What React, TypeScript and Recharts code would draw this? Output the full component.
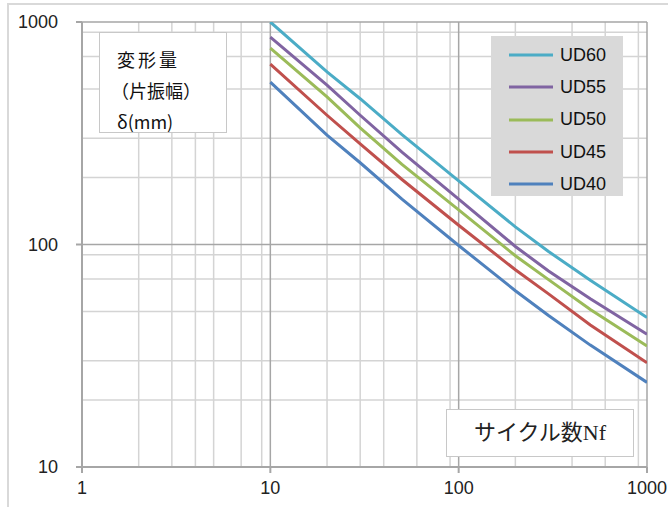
import { LineChart, Line, XAxis, YAxis, CartesianGrid, Legend } from 'recharts';

const cycles = [10, 20, 30, 50, 100, 200, 300, 500, 1000];
const ud60 = [1000, 597, 452, 312, 193, 120, 93, 69, 47];
const ud55 = [856, 520, 381, 260, 160, 98, 76, 57, 39.5];
const ud50 = [764, 461, 334, 229, 143, 89, 69.5, 51, 35];
const ud45 = [647, 381, 283, 196, 122, 77, 60, 43.5, 29.4];
const ud40 = [537, 310, 233, 160, 99, 62, 48, 35.3, 24];

const xTicks = [1, 10, 100, 1000];
const yTicks = [10, 100, 1000];
const xMinor = [2, 3, 4, 5, 6, 7, 8, 9, 20, 30, 40, 50, 60, 70, 80, 90, 200, 300, 400, 500, 600, 700, 800, 900];
const yMinor = [20, 30, 40, 50, 60, 70, 80, 90, 200, 300, 400, 500, 600, 700, 800, 900];

const series = [
  { key: 'UD60', values: ud60, color: '#4bacc6' },
  { key: 'UD55', values: ud55, color: '#8064a2' },
  { key: 'UD50', values: ud50, color: '#9bbb59' },
  { key: 'UD45', values: ud45, color: '#c0504d' },
  { key: 'UD40', values: ud40, color: '#4f81bd' },
];
const order = series.map((s) => s.key);

const data = cycles.map((n, i) => {
  const row: Record<string, number> = { n };
  series.forEach((s) => {
    row[s.key] = s.values[i];
  });
  return row;
});

const PLOT_LEFT = 82;
const PLOT_BOTTOM = 467;
const tickFont = 'Liberation Sans, Arial, sans-serif';

function YTick(props: any) {
  const { y, payload } = props;
  return (
    <g>
      <line x1={PLOT_LEFT - 6} x2={PLOT_LEFT} y1={y} y2={y} stroke="#a6a6a6" strokeWidth={2} />
      <text x={58} y={y} dy={6} textAnchor="end" fontSize={18} fontFamily={tickFont} fill="#222">
        {payload.value}
      </text>
    </g>
  );
}

function XTick(props: any) {
  const { x, payload } = props;
  return (
    <g>
      <line x1={x} x2={x} y1={PLOT_BOTTOM} y2={PLOT_BOTTOM + 6} stroke="#a6a6a6" strokeWidth={2} />
      <text x={x} y={494} textAnchor="middle" fontSize={18} fontFamily={tickFont} fill="#222">
        {payload.value}
      </text>
    </g>
  );
}

function renderLegend(props: any) {
  const items = [...(props.payload || [])].sort((a: any, b: any) => order.indexOf(a.value) - order.indexOf(b.value));
  return (
    <div
      style={{
        position: 'absolute',
        left: 0,
        top: 0,
        background: '#d9d9d9',
        width: 132,
        height: 160,
        boxSizing: 'border-box',
        paddingTop: 3,
      }}
    >
      {items.map((entry: any) => (
        <div key={entry.value} style={{ display: 'flex', alignItems: 'center', height: 32.3 }}>
          <svg width={44} height={6} style={{ marginLeft: 18 }}>
            <line x1={0} x2={44} y1={3} y2={3} stroke={entry.color} strokeWidth={3} />
          </svg>
          <span style={{ marginLeft: 7, fontSize: 18, fontFamily: tickFont, color: '#111' }}>{entry.value}</span>
        </div>
      ))}
    </div>
  );
}

export default function App() {
  return (
    <div style={{ position: 'absolute', left: 0, top: 0, width: 668, height: 507, background: '#fff', overflow: 'hidden' }}>
      <div style={{ position: 'absolute', left: 7, top: 3, width: 700, height: 600, border: '2px solid #d9d9d9' }} />
      <LineChart width={668} height={507} data={data} margin={{ top: 22, right: 21, bottom: 0, left: 0 }}>
        <CartesianGrid stroke="#d4d4d4" strokeWidth={1.5} horizontalValues={yMinor} verticalValues={xMinor} />
        <CartesianGrid stroke="#a6a6a6" strokeWidth={1.5} horizontalValues={yTicks} verticalValues={xTicks} />
        <XAxis
          dataKey="n"
          type="number"
          scale="log"
          domain={[1, 1000]}
          ticks={xTicks}
          allowDataOverflow
          height={40}
          tick={<XTick />}
          tickLine={false}
          axisLine={{ stroke: '#a6a6a6', strokeWidth: 2 }}
        />
        <YAxis
          type="number"
          scale="log"
          domain={[10, 1000]}
          ticks={yTicks}
          allowDataOverflow
          width={82}
          tick={<YTick />}
          tickLine={false}
          axisLine={{ stroke: '#a6a6a6', strokeWidth: 2 }}
        />
        {series.map((s) => (
          <Line
            key={s.key}
            dataKey={s.key}
            name={s.key}
            stroke={s.color}
            strokeWidth={3}
            dot={false}
            isAnimationActive={false}
          />
        ))}
        <Legend
          content={renderLegend}
          wrapperStyle={{ position: 'absolute', left: 491, top: 36, width: 0, height: 0 }}
        />
      </LineChart>
      <div
        style={{
          position: 'absolute',
          left: 99,
          top: 32,
          width: 128,
          height: 101,
          boxSizing: 'border-box',
          background: '#fff',
          border: '1.5px solid #c8c8c8',
          fontFamily: 'Noto Sans CJK JP, sans-serif',
          fontSize: 18,
          color: '#111',
          paddingLeft: 17,
          paddingTop: 11,
          lineHeight: '31px',
        }}
      >
        <div style={{ letterSpacing: 3 }}>変形量</div>
        <div style={{ marginLeft: -6 }}>（片振幅）</div>
        <div>δ(mm)</div>
      </div>
      <div
        style={{
          position: 'absolute',
          left: 446,
          top: 409,
          width: 188,
          height: 48,
          boxSizing: 'border-box',
          background: '#fff',
          border: '1.5px solid #c8c8c8',
          fontFamily: 'Liberation Serif, Noto Sans CJK JP, serif',
          fontSize: 22,
          color: '#222',
          textAlign: 'center',
          lineHeight: '45px',
        }}
      >
        サイクル数Nf
      </div>
    </div>
  );
}
